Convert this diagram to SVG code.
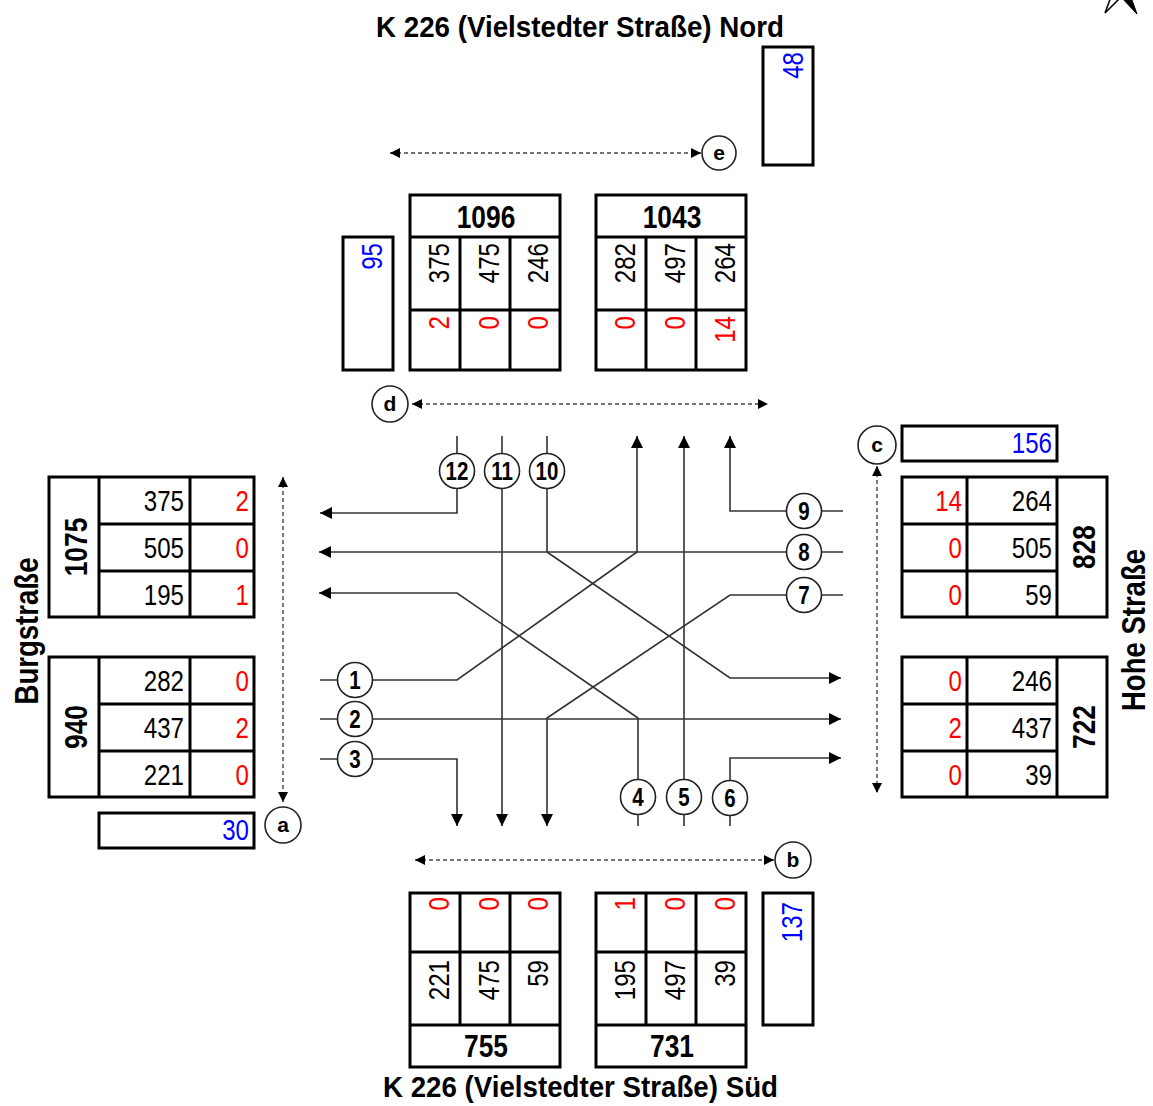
<svg xmlns="http://www.w3.org/2000/svg" width="1153" height="1106" viewBox="0 0 1153 1106">
<defs>
<style>
text{font-family:"Liberation Sans",Arial,sans-serif;}
.n{font-size:29px;fill:#000;}
.r{font-size:29px;fill:#f00;}
.b{font-size:29px;fill:#00f;}
.h{font-size:31px;font-weight:bold;fill:#000;}
.t{font-size:30px;font-weight:bold;fill:#000;}
.s{font-size:33px;font-weight:bold;fill:#000;}
.cl{font-size:25px;font-weight:bold;fill:#000;text-anchor:middle;}
.cx{font-size:21px;font-weight:bold;fill:#000;text-anchor:middle;}
.box{fill:#fff;stroke:#000;stroke-width:3;}
.grid{stroke:#000;stroke-width:3;fill:none;}
.flow{fill:none;stroke:#333;stroke-width:1.6;}
.dash{fill:none;stroke:#444;stroke-width:1.4;stroke-dasharray:4 3;}
.circ{fill:#fff;stroke:#222;stroke-width:1.6;}
</style>
<marker id="ah" viewBox="0 0 10 10" refX="10" refY="5" markerUnits="userSpaceOnUse" markerWidth="14" markerHeight="12" orient="auto"><path d="M0,0 L10,5 L0,10 z" fill="#000"/></marker>
<marker id="dh" viewBox="0 0 10 10" refX="10" refY="5" markerUnits="userSpaceOnUse" markerWidth="12" markerHeight="10" orient="auto-start-reverse"><path d="M0,0 L10,5 L0,10 z" fill="#000"/></marker>
</defs>
<rect width="1153" height="1106" fill="#fff"/>

<g id="north">
<polygon points="1119,-25 1105,13 1121,-3" fill="#fff" stroke="#000" stroke-width="1.5"/>
<polygon points="1123,-25 1137,14 1121,-3" fill="#000" stroke="#000" stroke-width="1"/>
</g>

<text class="t" x="376" y="37" textLength="408" lengthAdjust="spacingAndGlyphs">K 226 (Vielstedter Straße) Nord</text>
<text class="t" x="383" y="1097" textLength="395" lengthAdjust="spacingAndGlyphs">K 226 (Vielstedter Straße) Süd</text>
<text class="s" x="0" y="0" transform="translate(38,631) rotate(-90)" text-anchor="middle" textLength="147" lengthAdjust="spacingAndGlyphs">Burgstraße</text>
<text class="s" x="0" y="0" transform="translate(1145,630) rotate(-90)" text-anchor="middle" textLength="162" lengthAdjust="spacingAndGlyphs">Hohe Straße</text>

<g id="box48">
<rect class="box" x="763" y="47" width="50" height="118"/>
<text class="b" transform="translate(803,52) rotate(-90) scale(0.83,1)" text-anchor="end">48</text>
</g>

<g id="box95">
<rect class="box" x="343" y="237" width="50" height="133"/>
<text class="b" transform="translate(382,243) rotate(-90) scale(0.83,1)" text-anchor="end">95</text>
</g>

<g id="box1096">
<rect class="box" x="410" y="195" width="150" height="175"/>
<path class="grid" d="M410,237 H560 M410,310 H560 M460,237 V370 M510,237 V370"/>
<text class="h" transform="translate(486,228) scale(0.85,1)" text-anchor="middle">1096</text>
<text class="n" transform="translate(449,243) rotate(-90) scale(0.83,1)" text-anchor="end">375</text>
<text class="n" transform="translate(499,243) rotate(-90) scale(0.83,1)" text-anchor="end">475</text>
<text class="n" transform="translate(548,243) rotate(-90) scale(0.83,1)" text-anchor="end">246</text>
<text class="r" transform="translate(449,316) rotate(-90) scale(0.83,1)" text-anchor="end">2</text>
<text class="r" transform="translate(499,316) rotate(-90) scale(0.83,1)" text-anchor="end">0</text>
<text class="r" transform="translate(548,316) rotate(-90) scale(0.83,1)" text-anchor="end">0</text>
</g>

<g id="box1043">
<rect class="box" x="596" y="195" width="150" height="175"/>
<path class="grid" d="M596,237 H746 M596,310 H746 M646,237 V370 M696,237 V370"/>
<text class="h" transform="translate(672,228) scale(0.85,1)" text-anchor="middle">1043</text>
<text class="n" transform="translate(635,243) rotate(-90) scale(0.83,1)" text-anchor="end">282</text>
<text class="n" transform="translate(685,243) rotate(-90) scale(0.83,1)" text-anchor="end">497</text>
<text class="n" transform="translate(735,243) rotate(-90) scale(0.83,1)" text-anchor="end">264</text>
<text class="r" transform="translate(635,316) rotate(-90) scale(0.83,1)" text-anchor="end">0</text>
<text class="r" transform="translate(685,316) rotate(-90) scale(0.83,1)" text-anchor="end">0</text>
<text class="r" transform="translate(735,316) rotate(-90) scale(0.83,1)" text-anchor="end">14</text>
</g>

<g id="box1075">
<rect class="box" x="49" y="477" width="205" height="140"/>
<path class="grid" d="M99,477 V617 M190,477 V617 M99,524 H254 M99,571 H254"/>
<text class="h" transform="translate(87,547) rotate(-90) scale(0.85,1)" text-anchor="middle">1075</text>
<text class="n" transform="translate(184,511) scale(0.83,1)" text-anchor="end">375</text>
<text class="n" transform="translate(184,558) scale(0.83,1)" text-anchor="end">505</text>
<text class="n" transform="translate(184,605) scale(0.83,1)" text-anchor="end">195</text>
<text class="r" transform="translate(249,511) scale(0.83,1)" text-anchor="end">2</text>
<text class="r" transform="translate(249,558) scale(0.83,1)" text-anchor="end">0</text>
<text class="r" transform="translate(249,605) scale(0.83,1)" text-anchor="end">1</text>
</g>

<g id="box940">
<rect class="box" x="49" y="657" width="205" height="140"/>
<path class="grid" d="M99,657 V797 M190,657 V797 M99,704 H254 M99,751 H254"/>
<text class="h" transform="translate(87,727) rotate(-90) scale(0.85,1)" text-anchor="middle">940</text>
<text class="n" transform="translate(184,691) scale(0.83,1)" text-anchor="end">282</text>
<text class="n" transform="translate(184,738) scale(0.83,1)" text-anchor="end">437</text>
<text class="n" transform="translate(184,785) scale(0.83,1)" text-anchor="end">221</text>
<text class="r" transform="translate(249,691) scale(0.83,1)" text-anchor="end">0</text>
<text class="r" transform="translate(249,738) scale(0.83,1)" text-anchor="end">2</text>
<text class="r" transform="translate(249,785) scale(0.83,1)" text-anchor="end">0</text>
</g>

<g id="box30">
<rect class="box" x="99" y="813" width="155" height="35"/>
<text class="b" transform="translate(249,840) scale(0.83,1)" text-anchor="end">30</text>
</g>

<g id="box156">
<rect class="box" x="902" y="426" width="155" height="35"/>
<text class="b" transform="translate(1052,453) scale(0.83,1)" text-anchor="end">156</text>
</g>

<g id="box828">
<rect class="box" x="902" y="477" width="205" height="140"/>
<path class="grid" d="M967,477 V617 M1057,477 V617 M902,524 H1057 M902,571 H1057"/>
<text class="h" transform="translate(1095,547) rotate(-90) scale(0.85,1)" text-anchor="middle">828</text>
<text class="r" transform="translate(962,511) scale(0.83,1)" text-anchor="end">14</text>
<text class="r" transform="translate(962,558) scale(0.83,1)" text-anchor="end">0</text>
<text class="r" transform="translate(962,605) scale(0.83,1)" text-anchor="end">0</text>
<text class="n" transform="translate(1052,511) scale(0.83,1)" text-anchor="end">264</text>
<text class="n" transform="translate(1052,558) scale(0.83,1)" text-anchor="end">505</text>
<text class="n" transform="translate(1052,605) scale(0.83,1)" text-anchor="end">59</text>
</g>

<g id="box722">
<rect class="box" x="902" y="657" width="205" height="140"/>
<path class="grid" d="M967,657 V797 M1057,657 V797 M902,704 H1057 M902,751 H1057"/>
<text class="h" transform="translate(1095,727) rotate(-90) scale(0.85,1)" text-anchor="middle">722</text>
<text class="r" transform="translate(962,691) scale(0.83,1)" text-anchor="end">0</text>
<text class="r" transform="translate(962,738) scale(0.83,1)" text-anchor="end">2</text>
<text class="r" transform="translate(962,785) scale(0.83,1)" text-anchor="end">0</text>
<text class="n" transform="translate(1052,691) scale(0.83,1)" text-anchor="end">246</text>
<text class="n" transform="translate(1052,738) scale(0.83,1)" text-anchor="end">437</text>
<text class="n" transform="translate(1052,785) scale(0.83,1)" text-anchor="end">39</text>
</g>

<g id="box755">
<rect class="box" x="410" y="893" width="150" height="174"/>
<path class="grid" d="M410,952 H560 M410,1025 H560 M460,893 V1025 M510,893 V1025"/>
<text class="h" transform="translate(486,1057) scale(0.85,1)" text-anchor="middle">755</text>
<text class="r" transform="translate(449,897) rotate(-90) scale(0.83,1)" text-anchor="end">0</text>
<text class="r" transform="translate(499,897) rotate(-90) scale(0.83,1)" text-anchor="end">0</text>
<text class="r" transform="translate(548,897) rotate(-90) scale(0.83,1)" text-anchor="end">0</text>
<text class="n" transform="translate(449,960) rotate(-90) scale(0.83,1)" text-anchor="end">221</text>
<text class="n" transform="translate(499,960) rotate(-90) scale(0.83,1)" text-anchor="end">475</text>
<text class="n" transform="translate(548,960) rotate(-90) scale(0.83,1)" text-anchor="end">59</text>
</g>

<g id="box731">
<rect class="box" x="596" y="893" width="150" height="174"/>
<path class="grid" d="M596,952 H746 M596,1025 H746 M646,893 V1025 M696,893 V1025"/>
<text class="h" transform="translate(672,1057) scale(0.85,1)" text-anchor="middle">731</text>
<text class="r" transform="translate(635,897) rotate(-90) scale(0.83,1)" text-anchor="end">1</text>
<text class="r" transform="translate(685,897) rotate(-90) scale(0.83,1)" text-anchor="end">0</text>
<text class="r" transform="translate(735,897) rotate(-90) scale(0.83,1)" text-anchor="end">0</text>
<text class="n" transform="translate(635,960) rotate(-90) scale(0.83,1)" text-anchor="end">195</text>
<text class="n" transform="translate(685,960) rotate(-90) scale(0.83,1)" text-anchor="end">497</text>
<text class="n" transform="translate(735,960) rotate(-90) scale(0.83,1)" text-anchor="end">39</text>
</g>

<g id="box137">
<rect class="box" x="763" y="893" width="50" height="132"/>
<text class="b" transform="translate(802,902) rotate(-90) scale(0.83,1)" text-anchor="end">137</text>
</g>

<g id="connectors">
<line class="dash" x1="390" y1="153" x2="701" y2="153" marker-start="url(#dh)" marker-end="url(#dh)"/>
<line class="dash" x1="412" y1="404" x2="768" y2="404" marker-start="url(#dh)" marker-end="url(#dh)"/>
<line class="dash" x1="415" y1="860" x2="774" y2="860" marker-start="url(#dh)" marker-end="url(#dh)"/>
<line class="dash" x1="283" y1="477" x2="283" y2="802" marker-start="url(#dh)" marker-end="url(#dh)"/>
<line class="dash" x1="877" y1="466" x2="877" y2="793" marker-start="url(#dh)" marker-end="url(#dh)"/>

<path class="flow" d="M457,436 V454 M502,436 V454 M547,436 V454"/>
<path class="flow" d="M843,511 H821 M843,552 H821 M843,595 H821"/>
<path class="flow" d="M320,680 H338 M320,719 H338 M320,759 H338"/>
<path class="flow" d="M638,826 V814 M684,826 V814 M730,826 V815"/>

<path class="flow" d="M457,488 V513 H320" marker-end="url(#ah)"/>
<path class="flow" d="M502,488 V826" marker-end="url(#ah)"/>
<path class="flow" d="M547,488 V552 L730,678 H841" marker-end="url(#ah)"/>
<path class="flow" d="M787,511 H730 V436" marker-end="url(#ah)"/>
<path class="flow" d="M787,552 H319" marker-end="url(#ah)"/>
<path class="flow" d="M787,595 H730 L547,718 V826" marker-end="url(#ah)"/>
<path class="flow" d="M372,680 H457 L637,552 V436" marker-end="url(#ah)"/>
<path class="flow" d="M372,719 H841" marker-end="url(#ah)"/>
<path class="flow" d="M372,759 H457 V826" marker-end="url(#ah)"/>
<path class="flow" d="M638,780 V718 L457,593 H319" marker-end="url(#ah)"/>
<path class="flow" d="M684,780 V436" marker-end="url(#ah)"/>
<path class="flow" d="M730,781 V758 H841" marker-end="url(#ah)"/>
</g>

<g id="c12"><circle class="circ" cx="457" cy="471" r="17.5"/><text class="cl" transform="translate(457,480) scale(0.82,1)">12</text></g>
<g id="c11"><circle class="circ" cx="502" cy="471" r="17.5"/><text class="cl" transform="translate(502,480) scale(0.82,1)">11</text></g>
<g id="c10"><circle class="circ" cx="547" cy="471" r="17.5"/><text class="cl" transform="translate(547,480) scale(0.82,1)">10</text></g>
<g id="c9"><circle class="circ" cx="804" cy="511" r="17.5"/><text class="cl" transform="translate(804,520) scale(0.82,1)">9</text></g>
<g id="c8"><circle class="circ" cx="804" cy="552" r="17.5"/><text class="cl" transform="translate(804,561) scale(0.82,1)">8</text></g>
<g id="c7"><circle class="circ" cx="804" cy="595" r="17.5"/><text class="cl" transform="translate(804,604) scale(0.82,1)">7</text></g>
<g id="c1"><circle class="circ" cx="355" cy="680" r="17.5"/><text class="cl" transform="translate(355,689) scale(0.82,1)">1</text></g>
<g id="c2"><circle class="circ" cx="355" cy="719" r="17.5"/><text class="cl" transform="translate(355,728) scale(0.82,1)">2</text></g>
<g id="c3"><circle class="circ" cx="355" cy="759" r="17.5"/><text class="cl" transform="translate(355,768) scale(0.82,1)">3</text></g>
<g id="c4"><circle class="circ" cx="638" cy="797" r="17.5"/><text class="cl" transform="translate(638,806) scale(0.82,1)">4</text></g>
<g id="c5"><circle class="circ" cx="684" cy="797" r="17.5"/><text class="cl" transform="translate(684,806) scale(0.82,1)">5</text></g>
<g id="c6"><circle class="circ" cx="730" cy="798" r="17.5"/><text class="cl" transform="translate(730,807) scale(0.82,1)">6</text></g>

<g id="ca"><circle class="circ" cx="283" cy="825" r="18"/><text class="cx" x="283" y="832">a</text></g>
<g id="cb"><circle class="circ" cx="793" cy="860" r="18"/><text class="cx" x="793" y="867">b</text></g>
<g id="cc"><circle class="circ" cx="877" cy="445" r="19"/><text class="cx" x="877" y="452">c</text></g>
<g id="cd"><circle class="circ" cx="390" cy="404" r="18"/><text class="cx" x="390" y="411">d</text></g>
<g id="ce"><circle class="circ" cx="719" cy="153" r="17"/><text class="cx" x="719" y="160">e</text></g>
</svg>
